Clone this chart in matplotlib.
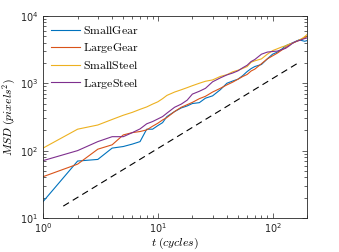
import matplotlib
matplotlib.use("Agg")
import matplotlib.pyplot as plt
from matplotlib.ticker import LogLocator, NullFormatter

plt.rcParams["mathtext.fontset"] = "cm"
plt.rcParams["font.family"] = "DejaVu Sans"

# ── data ──────────────────────────────────────────────────────
t = [1, 2, 3, 4, 5, 6, 7, 8, 9, 10, 11, 12, 14, 16, 18, 20, 23, 26, 30, 35,
     40, 45, 50, 55, 60, 65, 70, 80, 90, 100, 110, 120, 130, 140, 150, 160,
     170, 180, 190, 200]

small_gear = [17.5, 70, 74, 109, 115, 125, 136, 208, 208, 235, 260, 320, 380,
              430, 460, 500, 515, 600, 650, 800, 1000, 1080, 1150, 1300, 1490,
              1650, 1770, 1900, 2300, 2700, 2900, 3200, 3600, 3800, 4000, 4200,
              4400, 4300, 4200, 4300]
large_gear = [41, 63, 105, 122, 171, 185, 192, 203, 230, 255, 285, 310, 380,
              440, 480, 520, 590, 640, 740, 840, 946, 1040, 1150, 1260, 1350,
              1520, 1620, 1950, 2300, 2550, 2800, 3100, 3400, 3700, 3950, 4150,
              4350, 4550, 4750, 4950]
small_steel = [109, 208, 240, 290, 335, 370, 410, 445, 490, 530, 590, 660, 740,
               800, 860, 920, 1000, 1070, 1120, 1260, 1340, 1480, 1560, 1660,
               1770, 2050, 2150, 2300, 2700, 3050, 3250, 3450, 3600, 3800, 3950,
               4150, 4350, 4600, 4900, 5300]
large_steel = [71, 100, 136, 161, 161, 185, 210, 250, 270, 295, 320, 360, 440,
               490, 560, 690, 760, 840, 1050, 1200, 1330, 1420, 1530, 1700, 1850,
               2100, 2250, 2700, 2900, 2960, 3000, 3150, 3300, 3600, 3950, 4170,
               4300, 4450, 4600, 4700]

ref_t = [1.5, 175]
ref_msd = [15, 2100]

series = [
    ("SmallGear", small_gear, "#0072BD"),
    ("LargeGear", large_gear, "#D95319"),
    ("SmallSteel", small_steel, "#EDB120"),
    ("LargeSteel", large_steel, "#7E2F8E"),
]

fig = plt.figure(figsize=(3.39, 2.52), dpi=100)
ax = fig.add_axes([0.127, 0.135, 0.779, 0.802])

for name, vals, col in series:
    ax.plot(t, vals, color=col, lw=0.8, label=r"$\mathrm{%s}$" % name)

ax.plot(ref_t, ref_msd, color="black", lw=0.8, dashes=(6, 4))

ax.set_xscale("log")
ax.set_yscale("log")
ax.set_xlim(1, 200)
ax.set_ylim(10, 1e4)

ax.xaxis.set_minor_locator(LogLocator(base=10, subs=range(2, 10)))
ax.yaxis.set_minor_locator(LogLocator(base=10, subs=range(2, 10)))
ax.xaxis.set_minor_formatter(NullFormatter())
ax.yaxis.set_minor_formatter(NullFormatter())

ax.tick_params(which="both", direction="in", top=True, right=True,
               colors="#262626", labelsize=7, width=0.5)
ax.tick_params(which="major", length=3.5)
ax.tick_params(which="minor", length=2)
ax.tick_params(axis="x", pad=2.5)
for sp in ax.spines.values():
    sp.set_linewidth(0.6)
    sp.set_color("#262626")

ax.set_xlabel(r"$t\;(cycles)$", fontsize=8.5, labelpad=0)
ax.set_ylabel(r"$MSD\;(pixels^2)$", fontsize=8.5, labelpad=1)

ax.legend(loc="upper left", frameon=False, fontsize=8.5, handlelength=2.4,
          handletextpad=0.3, labelspacing=0.35, borderaxespad=0.3)

fig.savefig("out.png", dpi=100)
